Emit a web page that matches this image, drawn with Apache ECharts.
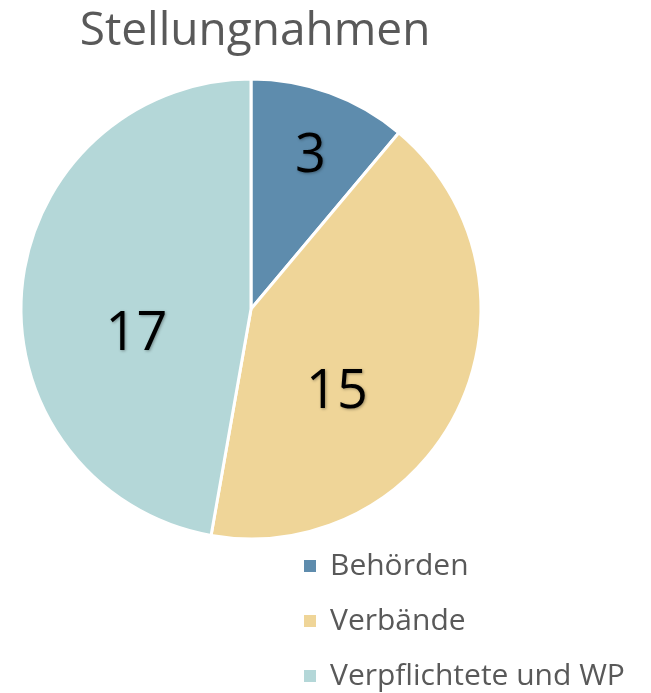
<!DOCTYPE html>
<html>
<head>
<meta charset="utf-8">
<script src="https://cdn.jsdelivr.net/npm/echarts@6/dist/echarts.min.js"></script>
<style>
html,body{margin:0;padding:0;background:#fff;}
#chart{width:651px;height:693px;}
</style>
</head>
<body>
<div id="chart"></div>
<script>
const titleText = 'Stellungnahmen';
const categories = ['Behörden', 'Verbände', 'Verpflichtete und WP'];
const values = [4, 15, 17];
const labelTexts = ['3', '15', '17'];
const colors = ['#5E8CAD', '#EFD598', '#B4D7D8'];
const labelShift = [[19, -42], [-21, 34], [3, 36]];

const chart = echarts.init(document.getElementById('chart'));
chart.setOption({
  animation: false,
  title: {
    text: titleText,
    left: 250,
    textAlign: 'center',
    top: 4,
    textStyle: {fontFamily: 'Open Sans', fontSize: 46, fontWeight: 'normal', color: '#595959'}
  },
  legend: {
    orient: 'vertical',
    left: 297,
    top: 546,
    height: 220,
    icon: 'rect',
    itemWidth: 14,
    itemHeight: 14,
    itemGap: 25,
    data: categories,
    textStyle: {fontFamily: 'Open Sans', fontSize: 30, color: '#595959', padding: [0, 0, 0, 8]}
  },
  series: [{
    type: 'pie',
    center: [251, 309],
    radius: [0, 230],
    startAngle: 90,
    clockwise: true,
    avoidLabelOverlap: false,
    itemStyle: {borderColor: '#fff', borderWidth: 3},
    label: {
      show: true,
      position: 'inside',
      fontFamily: 'Open Sans',
      fontSize: 54,
      color: '#000',
      textShadowColor: 'rgba(0,0,0,0.35)',
      textShadowBlur: 3,
      textShadowOffsetX: 1,
      textShadowOffsetY: 1,
      formatter: p => labelTexts[p.dataIndex]
    },
    labelLine: {show: false},
    labelLayout: p => ({dx: labelShift[p.dataIndex][0], dy: labelShift[p.dataIndex][1]}),
    emphasis: {disabled: true},
    data: categories.map((c, i) => ({name: c, value: values[i], itemStyle: {color: colors[i]}}))
  }]
});
</script>
</body>
</html>
